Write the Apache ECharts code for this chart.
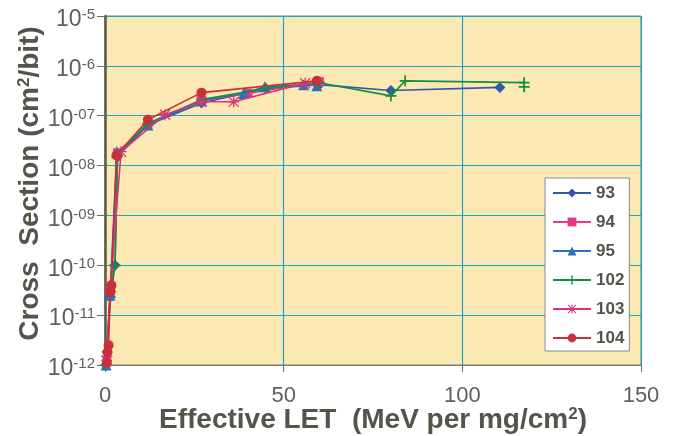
<!DOCTYPE html>
<html>
<head>
<meta charset="utf-8">
<script src="https://cdn.jsdelivr.net/npm/echarts@6/dist/echarts.min.js"></script>
<style>
  html, body { margin: 0; padding: 0; background: #ffffff; }
  #chart { width: 676px; height: 436px; }
</style>
</head>
<body>
<div id="chart"></div>
<script>
// Cross section vs effective LET, one series per device lot: [LET, sigma]
const lot93 = [[0.3, 1.0e-12], [1.5, 2.3e-11], [2.8, 1.0e-10], [3.5, 1.5e-8], [12, 6.5e-8], [27, 1.8e-7], [45, 3.5e-7], [60, 4.2e-7], [80, 3.2e-7], [110.5, 3.7e-7]];
const lot94 = [[0.5, 1.2e-12], [1.5, 3.0e-11], [3.5, 1.8e-8], [12, 7.0e-8], [27, 2.0e-7], [40, 2.8e-7], [60, 4.8e-7]];
const lot95 = [[0.3, 1.0e-12], [1.4, 2.5e-11], [3.3, 1.8e-8], [12, 6.5e-8], [27, 2.0e-7], [38.8, 2.8e-7], [44.7, 3.8e-7], [55.6, 4.2e-7], [59.3, 4.0e-7]];
const lot102 = [[0.3, 1.0e-12], [1.5, 3.0e-11], [2.8, 1.0e-10], [3.5, 1.6e-8], [12, 7.0e-8], [27, 2.1e-7], [45, 3.5e-7], [60, 4.6e-7], [80, 2.5e-7], [84, 5.0e-7], [117.3, 4.6e-7], [117.3, 3.8e-7]];
const lot103 = [[0.5, 1.5e-12], [1.5, 3.5e-11], [4.5, 1.9e-8], [16.8, 1.05e-7], [27, 1.9e-7], [36, 1.9e-7], [56, 4.5e-7]];
const lot104 = [[0.5, 1.1e-12], [0.7, 1.8e-12], [1.0, 2.5e-12], [1.5, 3.0e-11], [1.8, 4.0e-11], [3.2, 1.6e-8], [12, 8.3e-8], [27, 2.9e-7], [59.3, 5.0e-7]];

const seriesNames = ['93', '94', '95', '102', '103', '104'];
const seriesData = [lot93, lot94, lot95, lot102, lot103, lot104];

// Decade exponents printed on the log axis
const yExponents = { '-12': '-12', '-11': '-11', '-10': '-10', '-9': '-09', '-8': '-08', '-7': '-07', '-6': '-6', '-5': '-5' };
const xTicks = [0, 50, 100, 150];

const PLUS = 'path://M4.2,0 H5.8 V4.2 H10 V5.8 H5.8 V10 H4.2 V5.8 H0 V4.2 H4.2 Z';
const STAR = 'path://M4.4,0 H5.6 V4.4 H10 V5.6 H5.6 V10 H4.4 V5.6 H0 V4.4 H4.4 Z M0.8,0 L5,4.2 L9.2,0 L10,0.8 L5.8,5 L10,9.2 L9.2,10 L5,5.8 L0.8,10 L0,9.2 L4.2,5 L0,0.8 Z';

const styles = [
  { color: '#3159a8', symbol: 'diamond', size: 11 },
  { color: '#e8388a', symbol: 'rect', size: 9 },
  { color: '#2f6fbf', symbol: 'triangle', size: 11 },
  { color: '#129040', symbol: PLUS, size: 11 },
  { color: '#d9357f', symbol: STAR, size: 11 },
  { color: '#c9303c', symbol: 'circle', size: 10 }
];

const textColor = '#56534b';
const tickColor = '#5e5e5a';
const font = '"Liberation Sans", Arial, sans-serif';

const chart = echarts.init(document.getElementById('chart'), null, { renderer: 'canvas' });

chart.setOption({
  animation: false,
  textStyle: { fontFamily: font },
  grid: {
    left: 105, right: 35, top: 16, bottom: 71,
    outerBoundsMode: 'none',
    containLabel: false,
    show: true,
    backgroundColor: '#fce8b3',
    borderColor: '#7a7a72',
    borderWidth: 1
  },
  legend: {
    orient: 'vertical',
    left: 545, top: 178,
    backgroundColor: '#ffffff',
    borderColor: '#8a8a8a',
    borderWidth: 1,
    padding: [6, 5, 4, 7],
    itemWidth: 38, itemHeight: 11, itemGap: 11,
    textStyle: { fontSize: 17, fontWeight: 'bold', color: textColor, lineHeight: 18, fontFamily: font },
    data: seriesNames
  },
  xAxis: {
    type: 'value',
    min: 0, max: 150, interval: 50,
    name: 'Effective LET  (MeV per mg/cm{sup|2})',
    nameLocation: 'middle',
    nameGap: 41,
    nameMoveOverlap: false,
    nameTextStyle: {
      fontSize: 28, fontWeight: 'bold', color: textColor, fontFamily: font,
      rich: {
        sup: { fontSize: 17, fontWeight: 'bold', color: textColor, verticalAlign: 'top', lineHeight: 16 }
      }
    },
    axisLine: { show: true, lineStyle: { color: '#7a7a72', width: 1 } },
    axisTick: { show: true, inside: false, length: 7, lineStyle: { color: '#6a6a62' } },
    axisLabel: {
      margin: 20, fontSize: 22, color: tickColor, fontFamily: font,
      formatter: v => xTicks.includes(v) ? String(v) : ''
    },
    splitLine: { show: true, lineStyle: { color: '#1aa7c4', width: 1.2 } }
  },
  yAxis: {
    type: 'log',
    logBase: 10,
    min: 1e-12, max: 1e-5, interval: 1,
    name: 'Cross  Section (cm{sup|2}/bit)',
    nameLocation: 'middle',
    nameGap: 61,
    nameMoveOverlap: false,
    nameTextStyle: {
      fontSize: 28, fontWeight: 'bold', color: textColor, fontFamily: font,
      padding: [0, 0, 0, 14],
      rich: {
        sup: { fontSize: 17, fontWeight: 'bold', color: textColor, verticalAlign: 'top', lineHeight: 16 }
      }
    },
    axisLine: { show: true, lineStyle: { color: '#5c5a4e', width: 2.5 } },
    axisTick: { show: true, inside: false, length: 8, lineStyle: { color: '#6a6a62' } },
    axisLabel: {
      margin: 10, color: tickColor, fontFamily: font,
      padding: [7, 0, 0, 0],
      formatter: v => {
        const e = String(Math.round(Math.log10(v)));
        return '{b|10}{s|' + (yExponents[e] || e) + '}';
      },
      rich: {
        b: { fontSize: 23, color: tickColor, lineHeight: 24, verticalAlign: 'bottom' },
        s: { fontSize: 15, color: tickColor, lineHeight: 14, verticalAlign: 'top' }
      }
    },
    minorTick: { show: false },
    splitLine: { show: true, lineStyle: { color: '#1aa7c4', width: 1.2 } }
  },
  series: seriesNames.map((name, i) => ({
    name,
    type: 'line',
    data: seriesData[i],
    symbol: styles[i].symbol,
    symbolSize: styles[i].size,
    showAllSymbol: true,
    lineStyle: { color: styles[i].color, width: 1.6 },
    itemStyle: { color: styles[i].color },
    z: 3 + i
  }))
});
</script>
</body>
</html>
